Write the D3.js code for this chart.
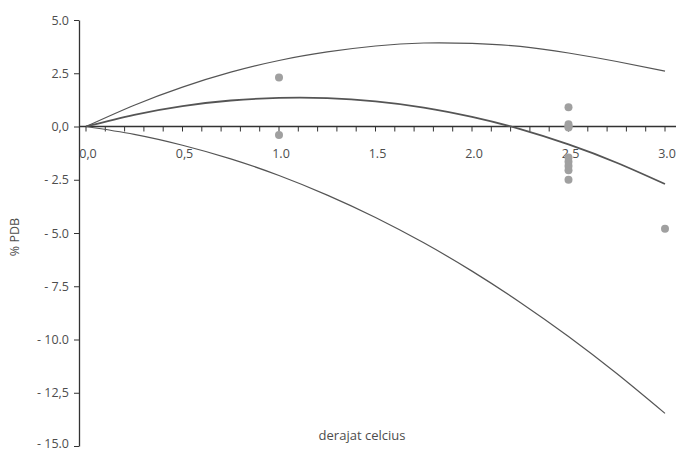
<!DOCTYPE html>
<html lang="en">
<head>
<meta charset="utf-8">
<title>PDB vs derajat celcius</title>
<script src="https://cdn.jsdelivr.net/npm/d3@7"></script>
<style>
body { margin: 0; background: #fff; }
text { font-family: "Open Sans", "Noto Sans", sans-serif; }
</style>
</head>
<body>
<script>
// data
var curveX = [0, 0.25, 0.5, 0.75, 1.0, 1.25, 1.5, 1.75, 2.0, 2.25, 2.5, 2.75, 3.0];
var upper  = [0, 1.0, 1.85, 2.55, 3.1, 3.5, 3.78, 3.92, 3.9, 3.76, 3.45, 3.05, 2.6];
var middle = [0, 0.55, 0.96, 1.22, 1.34, 1.33, 1.18, 0.89, 0.45, -0.12, -0.84, -1.7, -2.7];
var lower  = [0, -0.37, -0.88, -1.52, -2.3, -3.22, -4.27, -5.46, -6.79, -8.26, -9.86, -11.6, -13.47];

var pointX = [1.0, 1.0, 2.5, 2.5, 2.5, 2.5, 2.5, 2.5, 2.5, 2.5, 2.5, 3.0];
var pointY = [2.3, -0.4, 0.9, 0.1, -0.05, -1.45, -1.65, -1.85, -2.05, -2.5, 0.0, -4.8];

var yTicks = [5, 2.5, 0, -2.5, -5, -7.5, -10, -12.5, -15];
var yLabels = ["5.0", "2.5", "0,0", "- 2.5", "- 5.0", "- 7.5", "- 10.0", "- 12,5", "- 15.0"];
var xTicks = [0, 0.5, 1, 1.5, 2, 2.5, 3];
var xLabels = ["0,0", "0,5", "1.0", "1.5", "2.0", "2.5", "3.0"];
var xMinor = d3.range(0, 31).map(function(i) { return i / 10; });

var w = 677, h = 452;
var svg = d3.select("body").append("svg")
  .attr("width", w)
  .attr("height", h);

var x = d3.scaleLinear().domain([0, 3]).range([86, 665]);
var y = d3.scaleLinear().domain([-15, 5]).range([446, 20]);

var axisColor = "#333";
var labelColor = "#4d4d4d";

// y axis
var yAxis = svg.append("g")
  .attr("transform", "translate(79,0)")
  .call(d3.axisLeft(y)
    .tickValues(yTicks)
    .tickFormat(function(d, i) { return yLabels[i]; })
    .tickSize(5)
    .tickSizeOuter(0));
yAxis.select(".domain").attr("stroke", axisColor).attr("stroke-width", 1.3);
yAxis.selectAll(".tick line").attr("stroke", axisColor);
yAxis.selectAll(".tick text")
  .attr("x", -10)
  .attr("fill", labelColor)
  .attr("font-size", "12.5px")
  .style("font-family", "'Open Sans', sans-serif");
// bottom label sits on the page edge, lift it a little
yAxis.selectAll(".tick text").filter(function(d) { return d === -15; })
  .attr("dy", "0.1em");

// x axis (at y = 0)
var xg = svg.append("g").attr("transform", "translate(0," + y(0) + ")");
xg.append("line")
  .attr("x1", 79).attr("x2", 676)
  .attr("stroke", axisColor).attr("stroke-width", 1.3);
xg.selectAll("line.minor")
  .data(xMinor)
  .enter().append("line")
  .attr("class", "minor")
  .attr("x1", function(d) { return x(d); })
  .attr("x2", function(d) { return x(d); })
  .attr("y1", 0).attr("y2", 5)
  .attr("stroke", axisColor);
xg.selectAll("text")
  .data(xTicks)
  .enter().append("text")
  .attr("x", function(d) { return x(d) + 2; })
  .attr("y", 31)
  .attr("text-anchor", "middle")
  .attr("fill", labelColor)
  .attr("font-size", "12.5px")
  .text(function(d, i) { return xLabels[i]; });

// curves
var line = d3.line()
  .x(function(d) { return x(d[0]); })
  .y(function(d) { return y(d[1]); })
  .curve(d3.curveNatural);

[[upper, 1.2], [middle, 1.8], [lower, 1.2]].forEach(function(s) {
  svg.append("path")
    .datum(curveX.map(function(v, i) { return [v, s[0][i]]; }))
    .attr("d", line)
    .attr("fill", "none")
    .attr("stroke", "#555")
    .attr("stroke-width", s[1]);
});

// points
svg.selectAll("circle")
  .data(pointX.map(function(v, i) { return [v, pointY[i]]; }))
  .enter().append("circle")
  .attr("cx", function(d) { return x(d[0]); })
  .attr("cy", function(d) { return y(d[1]); })
  .attr("r", 4)
  .attr("fill", "#a0a0a0");

// axis titles
svg.append("text")
  .attr("x", 362).attr("y", 440)
  .attr("text-anchor", "middle")
  .attr("fill", labelColor)
  .attr("font-size", "13px")
  .text("derajat celcius");

svg.append("text")
  .attr("transform", "translate(19,237) rotate(-90)")
  .attr("text-anchor", "middle")
  .attr("fill", labelColor)
  .attr("font-size", "12.5px")
  .text("% PDB");
</script>
</body>
</html>
